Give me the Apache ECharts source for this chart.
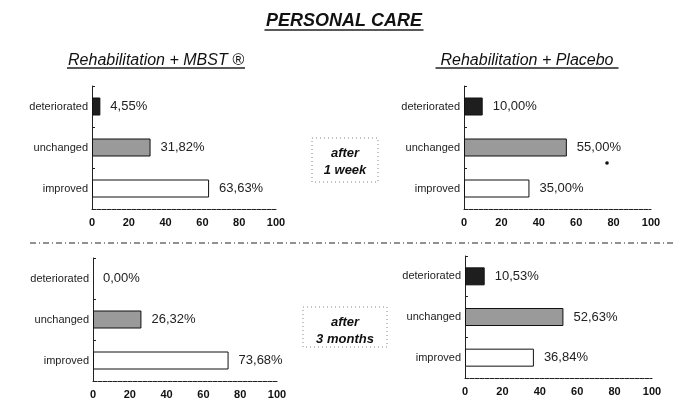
<!DOCTYPE html>
<html><head><meta charset="utf-8">
<script src="https://cdn.jsdelivr.net/npm/echarts@6/dist/echarts.min.js"></script>
<style>html,body{margin:0;padding:0;background:#fff}#c{width:675px;height:401px}</style>
</head><body><div id="c"></div>
<script>
const categories = ['deteriorated', 'unchanged', 'improved'];
const mbstWeek = [4.55, 31.82, 63.63];
const placeboWeek = [10.00, 55.00, 35.00];
const mbstMonths = [0.00, 26.32, 73.68];
const placeboMonths = [10.53, 52.63, 36.84];
const xTicks = [0, 20, 40, 60, 80, 100];

const barColors = ['#1e1e1e', '#9a9a9a', '#ffffff'];
const font = '"Liberation Sans", Arial, sans-serif';

const grids = [
  {left: 92, top: 86, width: 184, height: 123},
  {left: 464, top: 86, width: 187, height: 123},
  {left: 93, top: 258, width: 184, height: 123},
  {left: 465, top: 256, width: 187, height: 122}
];
const datasets = [mbstWeek, placeboWeek, mbstMonths, placeboMonths];

const xAxis = grids.map((g, i) => ({
  type: 'value', gridIndex: i, min: xTicks[0], max: xTicks[xTicks.length - 1], interval: 20,
  axisLine: {show: true, lineStyle: {color: '#222', width: 1, type: [4, 1]}},
  axisTick: {show: false}, splitLine: {show: false},
  axisLabel: {color: '#111', fontFamily: font, fontSize: 11, fontWeight: 'bold', margin: 8}
}));
const yAxis = grids.map((g, i) => ({
  type: 'category', gridIndex: i, data: categories, inverse: true,
  axisLine: {show: true, lineStyle: {color: '#222', width: 1}},
  axisTick: {show: true, length: 3, inside: true, lineStyle: {color: '#222'}},
  axisLabel: {color: '#222', fontFamily: font, fontSize: 11, margin: 4}
}));
const series = datasets.map((d, i) => ({
  type: 'bar', xAxisIndex: i, yAxisIndex: i, barWidth: 18,
  data: d.map((v, k) => ({value: v, itemStyle: {color: barColors[k], borderColor: '#111', borderWidth: v > 0 ? 1 : 0}})),
  label: {show: true, position: 'right', distance: 10, color: '#222', fontFamily: font, fontSize: 13,
    formatter: p => p.value.toFixed(2).replace('.', ',') + '%'}
}));

function underlinedText(x, y, text, fontSpec, w, uy) {
  return [
    {type: 'text', x: x, y: y, style: {text: text, align: 'center', verticalAlign: 'middle', font: fontSpec, fill: '#111'}},
    {type: 'line', shape: {x1: x - w / 2, y1: uy, x2: x + w / 2, y2: uy}, style: {stroke: '#222', lineWidth: 1.3}}
  ];
}

const graphic = [].concat(
  underlinedText(344, 21, 'PERSONAL CARE', 'italic bold 18px ' + font, 159, 30),
  underlinedText(156, 61, 'Rehabilitation + MBST ®', 'italic 16px ' + font, 178, 68),
  underlinedText(527, 61, 'Rehabilitation + Placebo', 'italic 16px ' + font, 183, 68),
  [
    {type: 'line', shape: {x1: 30, y1: 243, x2: 675, y2: 243}, style: {stroke: '#222', lineWidth: 1, lineDash: [6, 3, 1, 3]}},
    {type: 'rect', shape: {x: 312, y: 138, width: 66, height: 44}, style: {fill: 'none', stroke: '#888', lineWidth: 1, lineDash: [1, 3]}},
    {type: 'text', x: 345, y: 153, style: {text: 'after', align: 'center', verticalAlign: 'middle', font: 'italic bold 13px ' + font, fill: '#111'}},
    {type: 'text', x: 345, y: 170, style: {text: '1 week', align: 'center', verticalAlign: 'middle', font: 'italic bold 13px ' + font, fill: '#111'}},
    {type: 'rect', shape: {x: 303, y: 307, width: 84, height: 40}, style: {fill: 'none', stroke: '#888', lineWidth: 1, lineDash: [1, 3]}},
    {type: 'text', x: 345, y: 322, style: {text: 'after', align: 'center', verticalAlign: 'middle', font: 'italic bold 13px ' + font, fill: '#111'}},
    {type: 'text', x: 345, y: 339, style: {text: '3 months', align: 'center', verticalAlign: 'middle', font: 'italic bold 13px ' + font, fill: '#111'}},
    {type: 'circle', shape: {cx: 607, cy: 163, r: 1.8}, style: {fill: '#111'}}
  ]
);

const chart = echarts.init(document.getElementById('c'), null, {renderer: 'canvas'});
chart.setOption({
  animation: false,
  backgroundColor: '#fff',
  grid: grids,
  xAxis: xAxis,
  yAxis: yAxis,
  series: series,
  graphic: graphic
});
</script></body></html>
